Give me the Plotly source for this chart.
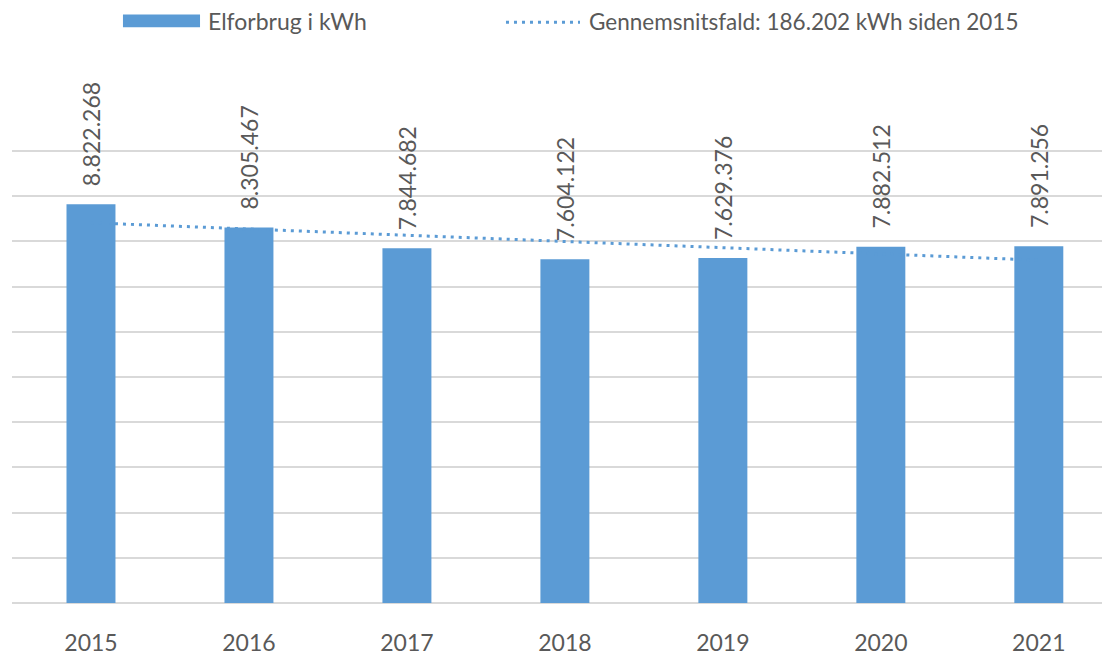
import numpy as np
import plotly.graph_objects as go

years = ["2015", "2016", "2017", "2018", "2019", "2020", "2021"]
consumption_kwh = [8822268, 8305467, 7844682, 7604122, 7629376, 7882512, 7891256]
value_labels = ["8.822.268", "8.305.467", "7.844.682", "7.604.122",
                "7.629.376", "7.882.512", "7.891.256"]
bar_name = "Elforbrug i kWh"
trend_name = "Gennemsnitsfald: 186.202 kWh siden 2015"

BLUE = "#5B9BD5"
TEXT = "#595959"
GRID = "#D9D9D9"
FONT = "Lato"

# linear trend through the yearly values (as Excel's trendline)
idx = np.arange(len(years))
slope, intercept = np.polyfit(idx, consumption_kwh, 1)
trend = slope * idx + intercept

fig = go.Figure()

# trend first so the bars sit on top of it
fig.add_trace(go.Scatter(
    x=idx, y=trend, mode="lines", name=trend_name,
    line=dict(color=BLUE, width=3, dash="3px,5px"),
    showlegend=False, hoverinfo="skip",
))
fig.add_trace(go.Bar(
    x=idx, y=consumption_kwh, name=bar_name,
    marker=dict(color=BLUE, line=dict(width=0)),
    width=0.31, showlegend=False,
))

for i, v, lab in zip(idx, consumption_kwh, value_labels):
    fig.add_annotation(
        x=i, y=v, text=lab, showarrow=False, textangle=-90,
        xanchor="center", yanchor="bottom", yshift=16,
        font=dict(family=FONT, size=23, color=TEXT),
    )

# hand-made legend, Excel style
fig.add_shape(type="rect", xref="paper", yref="paper",
              x0=0.1018, x1=0.1725, y0=1.26, y1=1.288,
              fillcolor=BLUE, line=dict(width=0))
fig.add_annotation(x=0.178, y=1.273, xref="paper", yref="paper",
                   text=bar_name, showarrow=False,
                   xanchor="left", yanchor="middle",
                   font=dict(family=FONT, size=23, color=TEXT))
fig.add_shape(type="line", xref="paper", yref="paper",
              x0=0.4532, x1=0.5211, y0=1.2707, y1=1.2707,
              line=dict(color=BLUE, width=3, dash="3px,5px"))
fig.add_annotation(x=0.5275, y=1.273, xref="paper", yref="paper",
                   text=trend_name, showarrow=False,
                   xanchor="left", yanchor="middle",
                   font=dict(family=FONT, size=22.5, color=TEXT))

fig.update_layout(
    width=1102, height=656,
    margin=dict(l=12, r=0, t=146, b=47),
    paper_bgcolor="white", plot_bgcolor="white",
    font=dict(family=FONT, color=TEXT),
    showlegend=False,
)
fig.update_xaxes(
    tickmode="array", tickvals=idx, ticktext=years,
    range=[-0.5, 6.4], showgrid=False, zeroline=False, showline=False,
    tickfont=dict(family=FONT, size=23, color=TEXT),
    ticks="", ticklabelstandoff=24,
)
fig.update_yaxes(
    range=[0, 10109000], dtick=1000000, showticklabels=False,
    showgrid=True, gridcolor=GRID, gridwidth=2,
    zeroline=True, zerolinecolor=GRID, zerolinewidth=2, showline=False,
)

# drop the browser's default body margin so the chart sits at 0,0
fig.write_html("out.html", config={"displayModeBar": False},
               post_script="document.body.style.margin='0';")
